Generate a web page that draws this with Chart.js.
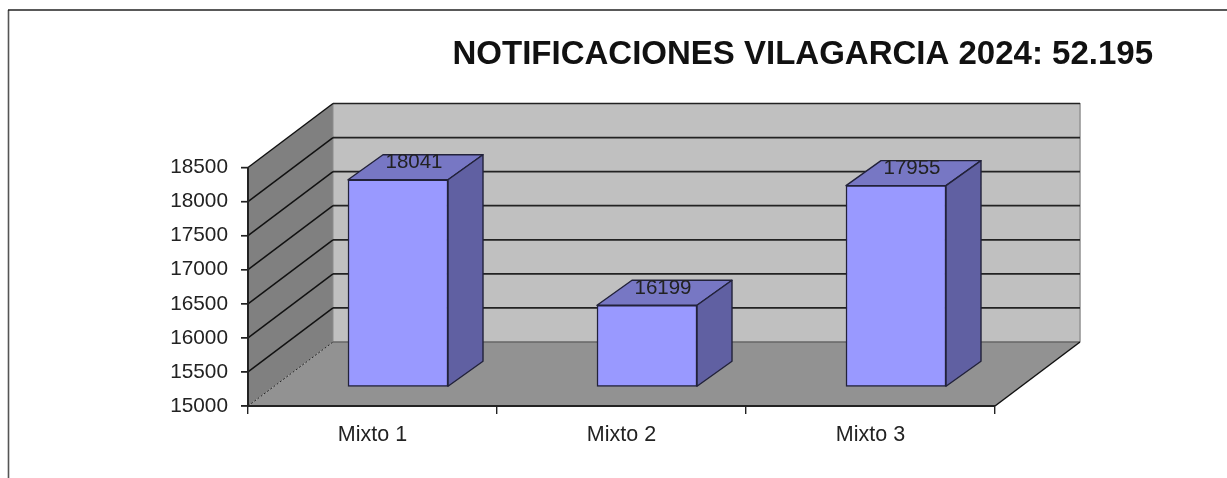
<!DOCTYPE html>
<html><head><meta charset="utf-8">
<style>html,body{margin:0;padding:0;background:#fff}canvas{display:block}</style>
<script src="https://cdn.jsdelivr.net/npm/chart.js@4"></script></head>
<body><canvas id="c" width="1227" height="478"></canvas>
<script>
const categories = ["Mixto 1", "Mixto 2", "Mixto 3"];
const values = [18041, 16199, 17955];
const chartTitle = "NOTIFICACIONES VILAGARCIA 2024: 52.195";
const yMin = 15000, yMax = 18500, yStep = 500;

const FONT = '"Liberation Sans", Arial, sans-serif';
const WALL = {dx: 85, dy: -64};      // depth of the floor
const BAR = {ox: 25.5, oy: -19, dx: 35, dy: -25}; // placement of bars in depth

function poly(ctx, pts, fill, stroke, lw) {
  ctx.beginPath();
  pts.forEach((p, i) => i ? ctx.lineTo(p[0], p[1]) : ctx.moveTo(p[0], p[1]));
  ctx.closePath();
  if (fill) { ctx.fillStyle = fill; ctx.fill(); }
  if (stroke) { ctx.strokeStyle = stroke; ctx.lineWidth = lw || 1; ctx.lineJoin = 'round'; ctx.stroke(); }
}
function line(ctx, x1, y1, x2, y2, color, lw) {
  ctx.beginPath(); ctx.moveTo(x1, y1); ctx.lineTo(x2, y2);
  ctx.strokeStyle = color; ctx.lineWidth = lw; ctx.stroke();
}

const scene3d = {
  id: 'scene3d',
  beforeDraw(chart) {
    const {ctx, scales: {x, y}} = chart;
    const L = x.left, R = x.right, B = y.getPixelForValue(yMin), T = y.getPixelForValue(yMax);
    const dx = WALL.dx, dy = WALL.dy;
    ctx.save();
    // frame of the picture
    line(ctx, 8.5, 10, 8.5, 478, '#555', 1.6);
    line(ctx, 8, 10, 1227, 10, '#222', 1.6);
    // back wall, side wall, floor
    poly(ctx, [[L+dx,T+dy],[R+dx,T+dy],[R+dx,B+dy],[L+dx,B+dy]], '#C0C0C0');
    poly(ctx, [[L,B],[L+dx,B+dy],[L+dx,T+dy],[L,T]], '#808080');
    poly(ctx, [[L,B],[R,B],[R+dx,B+dy],[L+dx,B+dy]], '#929292');
    line(ctx, R+dx, T+dy-0.5, R+dx, B+dy, '#969696', 1.6);
    line(ctx, L+dx, T+dy, L+dx, B+dy, '#8c8c8c', 1);
    // grid lines
    y.ticks.forEach(t => {
      const py = y.getPixelForValue(t.value);
      line(ctx, L-7, py, L, py, '#222', 1.4);
      if (t.value === yMin) {
        line(ctx, L+dx, py+dy, R+dx, py+dy, '#666', 1.4);
        ctx.setLineDash([2, 2]);
        line(ctx, L, py, L+dx, py+dy, '#222', 1);
        ctx.setLineDash([]);
      } else {
        line(ctx, L, py, L+dx, py+dy, '#111', 1.5);
        line(ctx, L+dx, py+dy, R+dx, py+dy, '#222', 1.7);
      }
    });
    line(ctx, R, B, R+dx, B+dy, '#111', 1.5);
    ctx.restore();
  },
  beforeDatasetDraw(chart) {
    chart.ctx.save();
    chart.ctx.translate(BAR.ox, BAR.oy);
    const meta = chart.getDatasetMeta(0);
    meta.data.forEach(b => {
      const p = b.getProps(['x','y','base','width'], true);
      const l = p.x - p.width/2, r = p.x + p.width/2;
      poly(chart.ctx, [[l,p.y],[r,p.y],[r+BAR.dx,p.y+BAR.dy],[l+BAR.dx,p.y+BAR.dy]], '#7777C4', '#22223a', 1.4);
      poly(chart.ctx, [[r,p.y],[r+BAR.dx,p.y+BAR.dy],[r+BAR.dx,p.base+BAR.dy],[r,p.base]], '#6060A2', '#22223a', 1.4);
    });
  },
  afterDatasetDraw(chart) {
    const ctx = chart.ctx;
    ctx.restore();
    ctx.save();
    ctx.font = '20.5px ' + FONT;
    ctx.fillStyle = '#222';
    ctx.textAlign = 'center';
    ctx.textBaseline = 'middle';
    chart.getDatasetMeta(0).data.forEach((b, i) => {
      ctx.fillText(String(values[i]), b.x + BAR.ox + 16, b.y + BAR.oy - 17);
    });
    ctx.restore();
  }
};

new Chart(document.getElementById('c'), {
  type: 'bar',
  data: {
    labels: categories,
    datasets: [{
      data: values,
      base: yMin,
      backgroundColor: '#9999FF',
      borderColor: '#22223a',
      borderWidth: 1.5,
      borderSkipped: false,
      barThickness: 100,
      clip: false
    }]
  },
  plugins: [scene3d],
  options: {
    responsive: false,
    animation: false,
    layout: {padding: {left: 0, right: 74, top: 0, bottom: 0}},
    plugins: {
      legend: {display: false},
      tooltip: {enabled: false},
      title: {
        display: true,
        text: chartTitle,
        align: 'end',
        color: '#111',
        font: {family: FONT, size: 33, weight: 'bold', lineHeight: 1.2},
        padding: {top: 35.2, bottom: 92.7}
      }
    },
    scales: {
      x: {
        grid: {display: true, drawOnChartArea: false, tickLength: 8, color: '#222', offset: true, lineWidth: 1.4},
        border: {display: true, color: '#222', width: 2},
        ticks: {color: '#222', font: {family: FONT, size: 21.5}, padding: 8, maxRotation: 0},
        afterFit(s) { s.height = 72; }
      },
      y: {
        min: yMin, max: yMax,
        grid: {display: true, drawOnChartArea: false, tickLength: 7, color: '#222', lineWidth: 1.4},
        border: {display: true, color: '#222', width: 2},
        ticks: {stepSize: yStep, color: '#222', font: {family: FONT, size: 20.8}, padding: 13, callback: v => String(v)},
        afterFit(s) { s.width = 248; }
      },
      spacer: {
        position: 'right', display: true,
        grid: {display: false}, border: {display: false}, ticks: {display: false},
        afterFit(s) { s.width = 158; }
      }
    }
  }
});
</script></body></html>
